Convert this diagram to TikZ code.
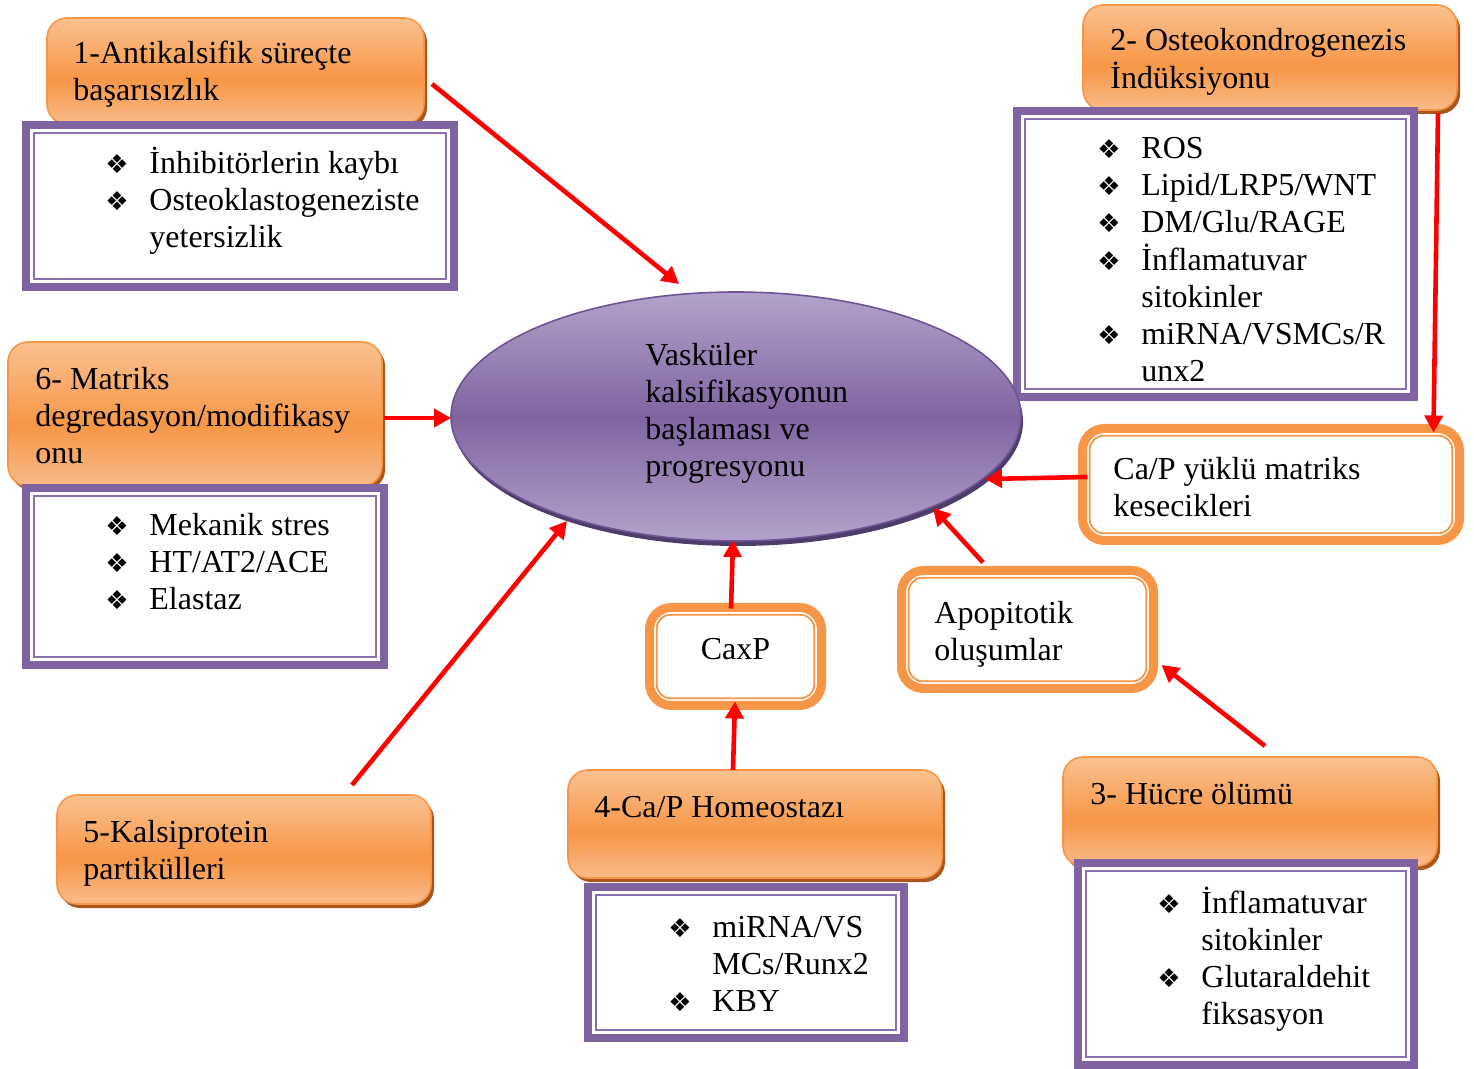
\documentclass[tikz,border=0pt]{standalone}
\usepackage{fontspec}
\setmainfont{Liberation Serif}
\newfontfamily\dvfont{DejaVu Sans}
\usetikzlibrary{shapes.geometric,arrows.meta,calc,fit,shadows}
\definecolor{orEdge}{HTML}{F79646}
\definecolor{orTop}{HTML}{FAC190}
\definecolor{orMid}{HTML}{F79646}
\definecolor{orBot}{HTML}{F9BB8A}
\definecolor{orShadow}{HTML}{A9561C}
\definecolor{purp}{HTML}{8064A2}
\definecolor{purpThin}{HTML}{8A6FAD}
\definecolor{elTop}{HTML}{B3A3CA}
\definecolor{elMid}{HTML}{8064A2}
\definecolor{elEdge}{HTML}{6E5494}
\definecolor{elShadow}{HTML}{4E3C6B}
\pgfdeclareverticalshading{orshade}{100bp}{color(0bp)=(orBot); color(25bp)=(orBot); color(46bp)=(orMid); color(75bp)=(orTop); color(100bp)=(orTop)}
\pgfdeclareverticalshading{elshade}{100bp}{color(0bp)=(elTop); color(25bp)=(elTop); color(50bp)=(elMid); color(75bp)=(elTop); color(100bp)=(elTop)}
\newcommand\bl{\makebox[22pt][l]{\dvfont\fontsize{13}{13}\selectfont ❖}}
\newcommand\tlines[1]{\begin{tabular}[t]{@{}l@{}}#1\end{tabular}}
\newcommand\blines[1]{\begin{tabular}[t]{@{}l@{}l@{}}#1\end{tabular}}
\begin{document}
\begin{tikzpicture}[x=0.5pt,y=-0.5pt,
  region/.style={inner sep=0pt, outer sep=0pt},
  orangebox/.style={region, rounded corners=10pt, draw=orEdge, line width=0.8pt, shading=orshade,
    general shadow={fill=orShadow, shadow xshift=1.5pt, shadow yshift=-2pt}},
  purplebox/.style={inner sep=-2pt, outer sep=0pt, fill=white, draw=purp, line width=4pt},
  purplethin/.style={draw=purpThin, line width=1pt},
  ringbox/.style={inner sep=-2.25pt, outer sep=0pt, rounded corners=11pt, fill=white, draw=orEdge, line width=4.5pt},
  ringthin/.style={draw=orEdge, line width=0.9pt, rounded corners=7pt},
  arr/.style={draw=red, line width=2.3pt, -{Triangle[length=8.5pt,width=9pt]}},
  lbl/.style={anchor=base west, inner sep=0pt, font=\fontsize{16}{18.5}\selectfont}
]
\useasboundingbox[fill=white] (0,0) rectangle (1474,1069);

% orange title boxes
\node[orangebox, fit={(47,18) (424,124)}] (o1) {};
\node[orangebox, fit={(1083,5) (1457,110)}] (o2) {};
\node[orangebox, fit={(8,342) (382,486)}] (o6) {};
\node[orangebox, fit={(57,795) (431,904)}] (o5) {};
\node[orangebox, fit={(568,770) (942,878)}] (o4) {};
\node[orangebox, fit={(1063,757) (1437,866)}] (o3) {};

% purple list boxes
\node[purplebox, fit={(22,121) (458,291)}] (p1) {};
\draw[purplethin] ([shift={(4pt,-4pt)}]p1.north west) rectangle ([shift={(-4pt,4pt)}]p1.south east);
\node[purplebox, fit={(1013,107) (1418,401)}] (p2) {};
\draw[purplethin] ([shift={(4pt,-4pt)}]p2.north west) rectangle ([shift={(-4pt,4pt)}]p2.south east);
\node[purplebox, fit={(22,484) (388,669)}] (p6) {};
\draw[purplethin] ([shift={(4pt,-4pt)}]p6.north west) rectangle ([shift={(-4pt,4pt)}]p6.south east);
\node[purplebox, fit={(584,883) (908,1042)}] (p4) {};
\draw[purplethin] ([shift={(4pt,-4pt)}]p4.north west) rectangle ([shift={(-4pt,4pt)}]p4.south east);
\node[purplebox, fit={(1074,859) (1418,1069)}] (p3) {};
\draw[purplethin] ([shift={(4pt,-4pt)}]p3.north west) rectangle ([shift={(-4pt,4pt)}]p3.south east);

% orange ring boxes
\node[ringbox, fit={(1078,424) (1464,545)}] (cap) {};
\draw[ringthin] ([shift={(3.6pt,-3.6pt)}]cap.north west) rectangle ([shift={(-3.6pt,3.6pt)}]cap.south east);
\node[ringbox, fit={(897,566) (1158,693)}] (apo) {};
\draw[ringthin] ([shift={(3.6pt,-3.6pt)}]apo.north west) rectangle ([shift={(-3.6pt,3.6pt)}]apo.south east);
\node[ringbox, fit={(645,603) (826,710)}] (caxp) {};
\draw[ringthin] ([shift={(3.6pt,-3.6pt)}]caxp.north west) rectangle ([shift={(-3.6pt,3.6pt)}]caxp.south east);

% central ellipse
\node[ellipse, minimum width=285pt, minimum height=124.5pt, inner sep=0pt, outer sep=0pt,
  draw=elEdge, line width=0.8pt, shading=elshade,
  general shadow={fill=elShadow, shadow xshift=1pt, shadow yshift=-2.5pt}] (E) at (736,416.5) {};

% arrows
\draw[arr] ($(o1.east)+(8,13)$) -- ($(E.center)+(-57,-132.5)$);
\draw[arr] ($(o2.south east)+(-19,3)$) -- ($(cap.north east)+(-26,4)$);
\draw[arr] ($(o6.east)+(2,4)$) -- ($(E.west)+(0,1.5)$);
\draw[arr] ($(cap.west)+(5,-7.5)$) -- ($(E.center)+(249,62.5)$);
\draw[arr] ($(apo.north)+(-44.5,-8)$) -- ($(E.center)+(197,91.5)$);
\draw[arr] ($(caxp.north)+(-4.5,1)$) -- ($(E.south)+(-3,-1)$);
\draw[arr] ($(o4.north)+(-22,0)$) -- ($(caxp.south)+(-0.5,-4)$);
\draw[arr] ($(o3.north)+(15,-11)$) -- ($(apo.east)+(8,35.5)$);
\draw[arr] ($(o5.north east)+(-79,-10)$) -- ($(E.center)+(-169,104.5)$);

% texts
\node[lbl] (t1) at (73,64) {\tlines{1-Antikalsifik süreçte\\başarısızlık}};
\node[lbl] (l1) at (105,174) {\blines{\bl & İnhibitörlerin kaybı\\ \bl & Osteoklastogeneziste\\ & yetersizlik}};
\node[lbl] (t2) at (1110,51) {\tlines{2- Osteokondrogenezis\\İndüksiyonu}};
\node[lbl] (l2) at (1097,159) {\blines{\bl & ROS\\ \bl & Lipid/LRP5/WNT\\ \bl & DM/Glu/RAGE\\ \bl & İnflamatuvar\\ & sitokinler\\ \bl & miRNA/VSMCs/R\\ & unx2}};
\node[lbl] (t6) at (35,390) {\tlines{6- Matriks\\degredasyon/modifikasy\\onu}};
\node[lbl] (l6) at (105,536) {\blines{\bl & Mekanik stres\\ \bl & HT/AT2/ACE\\ \bl & Elastaz}};
\node[lbl] (tE) at (645,366) {\tlines{Vasküler\\kalsifikasyonun\\başlaması ve\\progresyonu}};
\node[lbl] (tcap) at (1113,480) {\tlines{Ca/P yüklü matriks\\kesecikleri}};
\node[lbl] (tapo) at (934,624) {\tlines{Apopitotik\\oluşumlar}};
\node[lbl, anchor=base] (tcaxp) at (735.5,660) {CaxP};
\node[lbl] (t4) at (594,817) {4-Ca/P Homeostazı};
\node[lbl] (l4) at (668,937) {\blines{\bl & miRNA/VS\\ & MCs/Runx2\\ \bl & KBY}};
\node[lbl] (t5) at (83,842) {\tlines{5-Kalsiprotein\\partikülleri}};
\node[lbl] (t3) at (1090,805) {3- Hücre ölümü};
\node[lbl] (l3) at (1157,913) {\blines{\bl & İnflamatuvar\\ & sitokinler\\ \bl & Glutaraldehit\\ & fiksasyon}};
\end{tikzpicture}
\end{document}
